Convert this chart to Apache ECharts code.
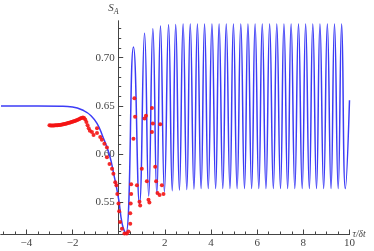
<!DOCTYPE html>
<html>
<head>
<meta charset="utf-8">
<script src="https://cdn.jsdelivr.net/npm/echarts@6/dist/echarts.min.js"></script>
<style>html,body{margin:0;padding:0;background:#fff}#c{width:374px;height:251px}</style>
</head>
<body>
<div id="c"></div>
<script>
// ---- data ----
// blue curve: plateau, dip, then oscillation (peaks and troughs)
const blueX = [-5.1, -3.5, -2.5, -2.0, -1.5, -1.2, -0.94, -0.7, -0.41, -0.2, 0.0, 0.15, 0.31,
  0.64, 0.90, 1.12, 1.30, 1.48, 1.65, 1.81, 1.98, 2.16, 2.32, 2.47, 2.63, 2.79, 2.95, 3.10, 3.26,
  3.41, 3.57, 3.72, 3.88, 4.04, 4.20, 4.35, 4.51, 4.66, 4.82, 4.97, 5.13, 5.29, 5.45, 5.60, 5.76,
  5.91, 6.07, 6.22, 6.38, 6.54, 6.70, 6.85, 7.01, 7.16, 7.32, 7.47, 7.63, 7.79, 7.95, 8.10, 8.26,
  8.41, 8.57, 8.72, 8.88, 9.04, 9.20, 9.35, 9.51, 9.66, 9.82, 10.0];
const blueY = [0.650, 0.650, 0.6498, 0.649, 0.645, 0.640, 0.632, 0.619, 0.600, 0.578, 0.553, 0.528, 0.5175,
  0.711, 0.5486, 0.7253, 0.5568, 0.730, 0.5589, 0.7328, 0.5613, 0.734, 0.5623, 0.7345, 0.563, 0.735, 0.5635, 0.735, 0.564,
  0.735, 0.5645, 0.735, 0.5645, 0.735, 0.5645, 0.735, 0.5645, 0.735, 0.5645, 0.735, 0.5645, 0.735, 0.5645, 0.735, 0.5645,
  0.735, 0.5645, 0.735, 0.5645, 0.735, 0.5645, 0.735, 0.5645, 0.735, 0.5645, 0.735, 0.5645, 0.735, 0.5645, 0.735, 0.5645,
  0.735, 0.5645, 0.735, 0.5645, 0.735, 0.5645, 0.735, 0.5645, 0.735, 0.5645, 0.656];
// red points
const redX = [-3.00, -2.95, -2.90, -2.85, -2.80, -2.75, -2.70, -2.65, -2.60, -2.55, -2.50, -2.45, -2.40, -2.35,
  -2.30, -2.25, -2.20, -2.15, -2.10, -2.05, -2.00, -1.95, -1.90, -1.85, -1.80, -1.75, -1.70, -1.65, -1.60,
  -1.55, -1.50, -1.45, -1.40, -1.35, -1.30, -1.25, -1.16, -1.09, -0.94, -0.94, -0.80, -0.73, -0.62, -0.51,
  -0.51, -0.40, -0.29, -0.23, -0.15, -0.10, -0.06, -0.01, 0.02, 0.06, 0.14, 0.25, 0.35, 0.42, 0.50, 0.50,
  0.52, 0.54, 0.54, 0.64, 0.68, 0.71, 0.79, 0.90, 0.93, 1.00, 1.12, 1.18, 1.22, 1.29, 1.33, 1.44, 1.44,
  1.48, 1.58, 1.62, 1.68, 1.77, 1.80, 1.87, 1.94];
const redY = [0.6300, 0.6299, 0.6298, 0.6298, 0.6299, 0.6300, 0.6301, 0.6302, 0.6303, 0.6304, 0.6306, 0.6308, 0.6311, 0.6314,
  0.6317, 0.6320, 0.6323, 0.6326, 0.6330, 0.6334, 0.6338, 0.6342, 0.6346, 0.6350, 0.6355, 0.6360, 0.6366, 0.6372, 0.6377,
  0.6380, 0.6376, 0.6360, 0.6335, 0.6300, 0.6270, 0.6245, 0.623, 0.620, 0.627, 0.622, 0.618, 0.615, 0.611, 0.607,
  0.597, 0.590, 0.585, 0.580, 0.571, 0.568, 0.559, 0.549, 0.541, 0.530, 0.523, 0.518, 0.518, 0.520, 0.528, 0.539,
  0.549, 0.559, 0.569, 0.616, 0.658, 0.639, 0.568, 0.551, 0.547, 0.585, 0.637, 0.640, 0.572, 0.553, 0.550, 0.623, 0.648,
  0.632, 0.587, 0.572, 0.560, 0.558, 0.631, 0.568, 0.559];
// ticks
const xMajorTicks = [-4, -2, 2, 4, 6, 8, 10];
const xMinorTicks = [-5, -4.5, -3.5, -3, -2.5, -1.5, -1, -0.5, 0.5, 1, 1.5, 2.5, 3, 3.5, 4.5, 5, 5.5, 6.5, 7, 7.5, 8.5, 9, 9.5];
const yMajorTicks = [0.55, 0.60, 0.65, 0.70];
const yMinorTicks = [0.52, 0.53, 0.54, 0.56, 0.57, 0.58, 0.59, 0.61, 0.62, 0.63, 0.64, 0.66, 0.67, 0.68, 0.69, 0.71, 0.72, 0.73];

const blueData = blueX.map((x, i) => [x, blueY[i]]);
const redData = redX.map((x, i) => [x, redY[i]]);

const AX = '#444';
const FONT = 'Liberation Serif';
const X_MIN = -5.1, X_MAX = 10, Y_MIN = 0.5175, Y_MAX = 0.738;
const GRID_LEFT = 1, GRID_RIGHT = 24.5, W = 374;
// y axis sits at x = 0 (axes cross at origin, Mathematica style)
const Y_AXIS_OFFSET = -((W - GRID_LEFT - GRID_RIGHT) * (0 - X_MIN) / (X_MAX - X_MIN));

function xAxisBase(extra) {
  return Object.assign({
    type: 'value', min: X_MIN, max: X_MAX, position: 'bottom',
    axisLine: { show: true, onZero: false, lineStyle: { color: AX, width: 1 } },
    splitLine: { show: false },
  }, extra);
}
function yAxisBase(extra) {
  return Object.assign({
    type: 'value', min: Y_MIN, max: Y_MAX, position: 'left', offset: Y_AXIS_OFFSET,
    axisLine: { show: true, onZero: false, lineStyle: { color: AX, width: 1 } },
    splitLine: { show: false },
  }, extra);
}

const chart = echarts.init(document.getElementById('c'), null, { renderer: 'canvas' });
chart.setOption({
  animation: false,
  backgroundColor: '#fff',
  grid: { left: GRID_LEFT, right: GRID_RIGHT, top: 21, bottom: 17, containLabel: false, outerBoundsMode: 'none' },
  xAxis: [
    xAxisBase({
      axisTick: { show: true, inside: true, length: 2.5, customValues: xMinorTicks, lineStyle: { color: AX } },
      axisLabel: { show: false },
    }),
    xAxisBase({
      axisTick: { show: true, inside: true, length: 4.5, customValues: xMajorTicks, lineStyle: { color: AX } },
      axisLabel: {
        show: true, customValues: xMajorTicks, margin: 4, color: AX, fontFamily: FONT, fontSize: 11,
        formatter: v => (v < 0 ? '\u2212' + Math.abs(v) : String(v))
      },
      name: '\u03c4/\u03b4t', nameLocation: 'end', nameGap: 3, nameMoveOverlap: false,
      nameTextStyle: { color: AX, fontFamily: FONT, fontStyle: 'italic', fontSize: 9.5, verticalAlign: 'middle', align: 'left', padding: [0, 0, 6, 0] }
    })
  ],
  yAxis: [
    yAxisBase({
      axisTick: { show: true, inside: true, length: 2.5, customValues: yMinorTicks, lineStyle: { color: AX } },
      axisLabel: { show: false },
    }),
    yAxisBase({
      axisTick: { show: true, inside: true, length: 4.5, customValues: yMajorTicks, lineStyle: { color: AX } },
      axisLabel: {
        show: true, customValues: yMajorTicks, margin: 4, color: AX, fontFamily: FONT, fontSize: 11,
        formatter: v => Number(v).toFixed(2)
      },
      name: '{s|S}{a|A}', nameLocation: 'end', nameGap: 5, nameMoveOverlap: false,
      nameTextStyle: {
        align: 'right', verticalAlign: 'bottom',
        rich: {
          s: { fontFamily: FONT, fontStyle: 'italic', fontSize: 11, color: AX, verticalAlign: 'top' },
          a: { fontFamily: FONT, fontStyle: 'italic', fontSize: 8, color: AX, verticalAlign: 'bottom', padding: [5, 0, 0, 0] }
        }
      }
    })
  ],
  series: [
    {
      type: 'line', xAxisIndex: 0, yAxisIndex: 0, data: blueData, smooth: 0.5,
      showSymbol: false, symbol: 'none', clip: true,
      lineStyle: { color: '#3c3cf6', width: 1.5 }, z: 2
    },
    {
      type: 'scatter', xAxisIndex: 0, yAxisIndex: 0, data: redData, symbol: 'circle', symbolSize: 4,
      itemStyle: { color: '#f41414', opacity: 0.9 }, z: 3
    }
  ]
});
</script>
</body>
</html>
